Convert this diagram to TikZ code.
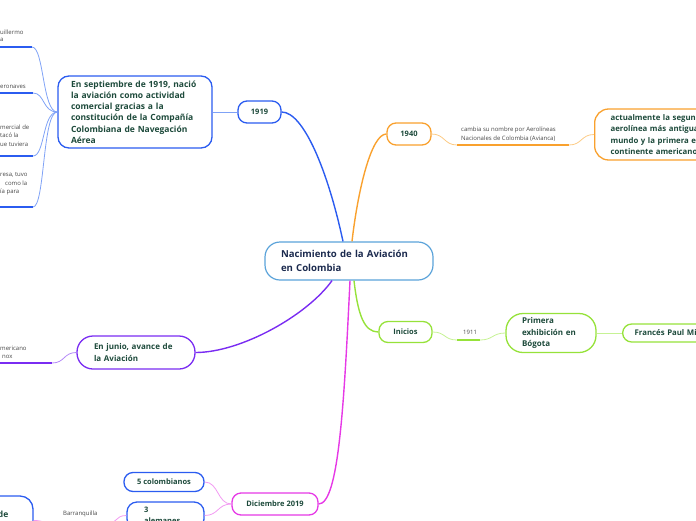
\documentclass[tikz,border=0pt]{standalone}
\usepackage{fontspec}
\setmainfont{Open Sans}
\usetikzlibrary{calc}
\definecolor{txt}{HTML}{1D4A3B}
\definecolor{ctxt}{HTML}{1B2A4E}
\definecolor{cblue}{HTML}{2B5CF0}
\definecolor{lblue}{HTML}{7FA2F6}
\definecolor{corange}{HTML}{F9A12E}
\definecolor{lorange}{HTML}{FCCB85}
\definecolor{cgreen}{HTML}{96E23A}
\definecolor{lgreen}{HTML}{C6F294}
\definecolor{cpurple}{HTML}{7A2CF2}
\definecolor{lpurple}{HTML}{B388F7}
\definecolor{cmag}{HTML}{E639E6}
\definecolor{lmag}{HTML}{F29AF2}
\definecolor{centb}{HTML}{5BA3DA}
\begin{document}
\begin{tikzpicture}[x=1pt,y=-1pt,
  box/.style={draw, line width=1.3pt, rounded corners=11pt, fill=white, inner sep=0pt,
    font=\fontsize{7.5}{11}\selectfont\bfseries, text=txt, align=left},
  pill/.style={box, rounded corners=9pt, align=center},
  small/.style={font=\fontsize{6}{8.5}\selectfont, text=black!72, inner sep=0pt, align=left},
  main/.style={line width=1.4pt},
  thinl/.style={line width=0.8pt},
  uline/.style={line width=1.7pt}]
\useasboundingbox (0,0) rectangle (696,520);
\clip (0,0) rectangle (696,520);

% ---- central
\node[box, draw=centb, line width=1.2pt, rounded corners=15pt, minimum width=168pt,
  minimum height=38pt, text width=136pt, font=\fontsize{9.6}{14.5}\selectfont\bfseries,
  text=ctxt] (c) at (349,261) {Nacimiento de la Aviación\\en Colombia};

% ---- 1919 branch
\node[pill, draw=cblue, minimum width=43pt, minimum height=22pt] (n1919) at (259.5,112) {1919};
\node[box, draw=cblue, minimum width=154pt, minimum height=72pt, text width=132pt,
  font=\fontsize{8.5}{11.2}\selectfont\bfseries]
  (big) at (135,112) {\hspace*{2pt}En septiembre de 1919, nació\\\hspace*{2pt}la aviación como actividad\\\hspace*{2pt}comercial gracias a la\\\hspace*{2pt}constitución de la Compañía\\\hspace*{2pt}Colombiana de Navegación\\\hspace*{2pt}Aérea};

\coordinate (u1a) at (0,47);   \coordinate (u1b) at (32,47);
\coordinate (u2a) at (0,93);   \coordinate (u2b) at (33,93);
\coordinate (u3a) at (0,156);  \coordinate (u3b) at (33,156);
\coordinate (u4a) at (0,207);  \coordinate (u4b) at (33,207);

\node[small, anchor=west] (t1a) at (0,32) {uillermo};
\node[small, anchor=west] (t1b) at (0,39.5) {a};
\node[small, anchor=west] (t2a) at (0,87) {eronaves};
\node[small, anchor=west] (t3a) at (0,127) {mercial de};
\node[small, anchor=west] (t3b) at (0,135.5) {tacó la};
\node[small, anchor=west] (t3c) at (0,144) {ue tuviera};
\node[small, anchor=west] (t4a) at (0,175) {resa, tuvo};
\node[small, anchor=west] (t4b) at (5,183.5) {como la};
\node[small, anchor=west] (t4c) at (0,192) {ía para};

\draw[cblue, main] ([xshift=-6pt]c.north) .. controls +(-15,-70) and +(22,0) .. (n1919.east);
\draw[lblue, thinl] (n1919.west) -- (big.east);
\foreach \u in {u1b,u2b,u3b,u4b}{
  \draw[lblue, thinl] (big.west) .. controls +(-15,0) and +(12,0) .. (\u);
}
\draw[cblue, uline] (u1a) -- (u1b);
\draw[cblue, uline] (u2a) -- (u2b);
\draw[cblue, uline] (u3a) -- (u3b);
\draw[cblue, uline] (u4a) -- (u4b);

% ---- 1940 branch
\node[pill, draw=corange, minimum width=44pt, minimum height=22pt] (n1940) at (409,134) {1940};
\node[small, anchor=west] (t5) at (461,134) {cambia su nombre por Aerolíneas\\Nacionales de Colombia (Avianca)};
\coordinate (u5a) at (457,145); \coordinate (u5b) at (569,145);
\node[box, draw=corange, anchor=west, rounded corners=14pt, minimum height=51pt,
  inner xsep=16pt, text width=140pt, font=\fontsize{7.8}{11.5}\selectfont\bfseries]
  (ob) at (594,134.5) {actualmente la segunda\\aerolínea más antigua del\\mundo y la primera en el\\continente americano};
\draw[corange, main] ([xshift=3pt]c.north) .. controls +(6,-52) and +(-15,0) .. (n1940.west);
\draw[lorange, thinl] (n1940.east) .. controls +(13,0) and +(-13,0) .. (u5a);
\draw[corange, uline] (u5a) -- (u5b);
\draw[lorange, thinl] (u5b) .. controls +(13,0) and +(-13,0) .. (ob.west);

% ---- Inicios branch
\node[pill, draw=cgreen, minimum width=53pt, minimum height=21pt] (ini) at (405.5,332) {Inicios};
\node[small, anchor=west] (t6) at (463,332.5) {1911};
\coordinate (u6a) at (457,340); \coordinate (u6b) at (480,340);
\node[box, draw=cgreen, rounded corners=17pt, minimum width=90pt, minimum height=39pt,
  text width=58pt, font=\fontsize{8}{11.3}\selectfont\bfseries] (prim) at (551,333) {Primera\\exhibición en\\Bógota};
\node[box, draw=cgreen, anchor=west, rounded corners=9pt, minimum height=18pt,
  inner xsep=12pt, text width=110pt, font=\fontsize{7.8}{11}\selectfont\bfseries] (fr) at (622,333) {Francés Paul Mi};
\draw[cgreen, main] ([xshift=5pt]c.south) .. controls +(4,35) and +(-14,0) .. (ini.west);
\draw[lgreen, thinl] (ini.east) .. controls +(13,0) and +(-13,0) .. (u6a);
\draw[cgreen, uline] (u6a) -- (u6b);
\draw[lgreen, thinl] (u6b) .. controls +(13,0) and +(-13,0) .. (prim.west);
\draw[lgreen, thinl] (prim.east) -- (fr.west);

% ---- junio branch
\node[box, draw=cpurple, rounded corners=16pt, minimum width=118pt, minimum height=33pt,
  text width=84pt, font=\fontsize{8}{12}\selectfont\bfseries] (jun) at (136,352.5) {En junio, avance de\\la Aviación};
\node[small, anchor=west] (t7a) at (0,348) {mericano};
\node[small, anchor=west] (t7b) at (2,356.5) {nox};
\coordinate (u7a) at (0,363); \coordinate (u7b) at (52,363);
\draw[cpurple, main] ([xshift=-17pt]c.south) .. controls +(-25,35) and +(45,0) .. (jun.east);
\draw[lpurple, thinl] (u7b) .. controls +(13,0) and +(-13,0) .. (jun.west);
\draw[cpurple, uline] (u7a) -- (u7b);

% ---- Diciembre branch
\node[pill, draw=cmag, minimum width=86pt, minimum height=22pt] (dic) at (275,504) {Diciembre 2019};
\node[pill, draw=cblue, minimum width=80pt, minimum height=19pt] (col5) at (164,482) {5 colombianos};
\node[box, draw=cblue, rounded corners=10pt, minimum width=77pt, minimum height=27pt,
  text width=43pt, font=\fontsize{7.5}{11}\selectfont\bfseries] (ale3) at (165.5,515.5) {3\\alemanes};
\node[small, anchor=west] (t8) at (63,513.5) {Barranquilla};
\coordinate (u8a) at (55,524); \coordinate (u8b) at (106,524);
\node[box, draw=cblue, rounded corners=13pt, minimum width=113pt, minimum height=49pt] (bl) at (-23.5,520.5) {};
\node[font=\fontsize{8.5}{11}\selectfont\bfseries, text=txt, inner sep=0pt, anchor=east] (blt) at (8.5,514) {de};
\draw[cmag, main] ([xshift=1pt]c.south) .. controls +(-6,125) and +(20,0) .. (dic.east);
\draw[lmag, thinl] (dic.west) .. controls +(-14,0) and +(14,0) .. (col5.east);
\draw[lmag, thinl] (dic.west) .. controls +(-14,0) and +(14,0) .. (ale3.east);
\draw[lmag, thinl] (ale3.west) .. controls +(-12,0) and +(12,0) .. (u8b);
\draw[lmag, uline] (u8a) -- (u8b);
\draw[lmag, thinl] (u8a) .. controls +(-12,0) and +(12,0) .. (bl.east);
\end{tikzpicture}
\end{document}
